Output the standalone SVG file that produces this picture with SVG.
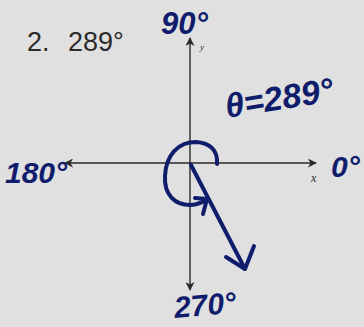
<svg xmlns="http://www.w3.org/2000/svg" width="364" height="327" viewBox="0 0 364 327">
<style>
.axis{stroke:#2a2a2a;stroke-width:1.4;fill:none}
.ink{stroke:#101c6c;stroke-width:4;fill:none;stroke-linecap:round;stroke-linejoin:round}
.hand{font-family:"Liberation Sans",Arial,sans-serif;font-weight:bold;font-style:italic;fill:#101c6c}
.print{font-family:"Liberation Sans",Arial,sans-serif;fill:#2b2b2b}
.lbl{font-family:"Liberation Serif",serif;font-style:italic;fill:#2b2b2b}
</style>
<defs>
<marker id="ah" viewBox="0 0 10 10" refX="9" refY="5" markerWidth="9" markerHeight="9" markerUnits="userSpaceOnUse" orient="auto">
<path d="M0,0 L10,5 L0,10 L3,5 Z" fill="#2a2a2a"/>
</marker>
</defs>
<rect width="364" height="327" fill="#e0e0e0"/>
<g id="connectors">
<line class="axis" x1="190" y1="163" x2="190" y2="38" marker-end="url(#ah)"/>
<line class="axis" x1="190" y1="163" x2="190" y2="290" marker-end="url(#ah)"/>
<line class="axis" x1="190" y1="163" x2="316" y2="163" marker-end="url(#ah)"/>
<line class="axis" x1="190" y1="163" x2="65" y2="163" marker-end="url(#ah)"/>
<path class="ink" d="M217,164 C218,150 210,143 196,142 C178,142 166,155 165,176 C164,195 175,205 190,205 C197,205 202,202 207,200"/>
<path class="ink" d="M195,198 L207,199 L203,214"/>
<path class="ink" d="M191,165 L245,269"/>
<path class="ink" d="M226,257 L245,269 L254,246"/>
</g>
<g id="title"><text class="print" x="27" y="51" font-size="27">2. <tspan x="68">289°</tspan></text></g>
<g id="label-x"><text class="lbl" x="311" y="182" font-size="12">x</text></g>
<g id="label-y"><text class="lbl" x="200" y="50" font-size="9">y</text></g>
<g id="label-90"><text class="hand" x="161" y="34" font-size="31">90°</text></g>
<g id="label-theta"><text class="hand" x="227" y="118" font-size="34" transform="rotate(-9 227 118)">θ=289°</text></g>
<g id="label-180"><text class="hand" x="5" y="183" font-size="30">180°</text></g>
<g id="label-0"><text class="hand" x="331" y="177" font-size="30">0°</text></g>
<g id="label-270"><text class="hand" x="175" y="318" font-size="30" transform="rotate(-5 175 318)">270°</text></g>
</svg>
